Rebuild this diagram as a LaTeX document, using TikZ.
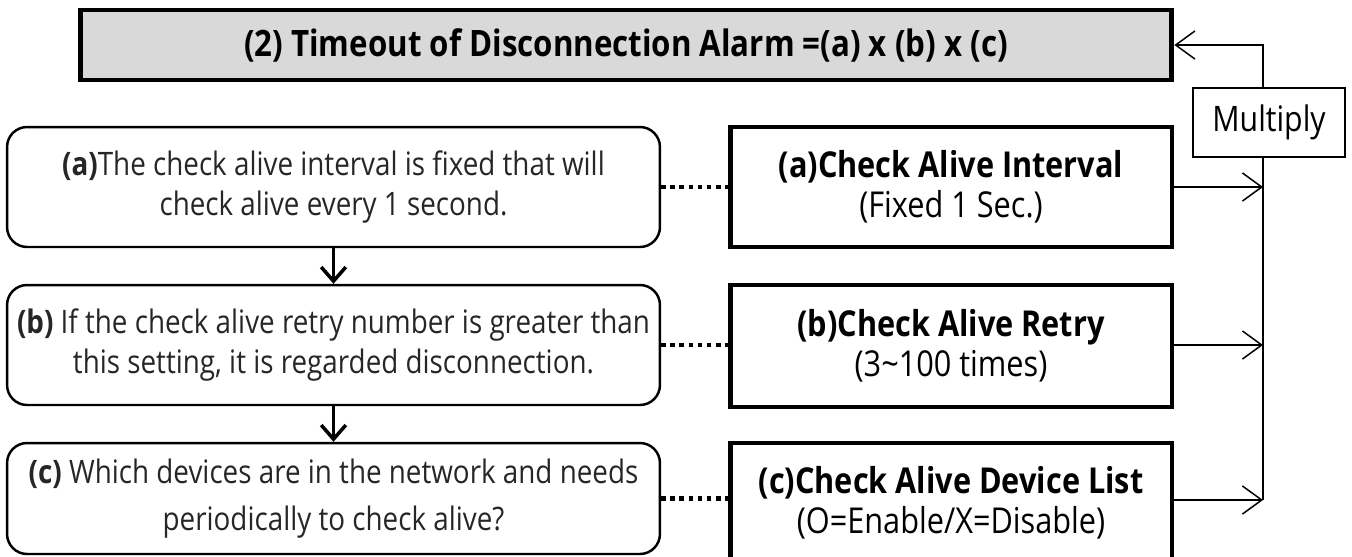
\documentclass[tikz,border=0pt]{standalone}
\usepackage{fontspec}
\setmainfont[FakeStretch=0.86]{Open Sans}
\usetikzlibrary{arrows.meta}

\begin{document}
\begin{tikzpicture}[x=0.02cm,y=-0.02cm,
    descbox/.style={draw,rounded corners=0.4cm,line width=1.4pt,minimum width=13.06cm,
      minimum height=2.4cm,inner xsep=1pt,align=center,font=\fontsize{18.4}{23}\selectfont,text=black!85},
    setbox/.style={draw,line width=2.8pt,minimum width=8.84cm,minimum height=2.4cm,
      align=center,font=\fontsize{20.3}{23}\selectfont},
    link/.style={line width=2.8pt,dash pattern=on 2.6pt off 2.6pt},
    feed/.style={line width=0.85pt,-{Straight Barb[length=11pt,width=16pt,line width=0.85pt]}},
    down/.style={line width=2pt,-{Straight Barb[length=8pt,width=14pt,line width=2pt]}}]
    \useasboundingbox (0,0) rectangle (1352,556);

    % result
    \node[draw,line width=2.8pt,fill=black!15,minimum width=21.84cm,minimum height=1.4cm,
      font=\fontsize{20.7}{22}\selectfont\bfseries] (total) at (626,45)
      {(2) Timeout of Disconnection Alarm =(a) x (b) x (c)};

    % descriptions
    \node[descbox] (desca) at (333.5,187)
      {\textbf{(a)}The check alive interval is fixed that will\\check alive every 1 second.};
    \node[descbox] (descb) at (333.5,345)
      {\textbf{(b)} If the check alive retry number is greater than\\this setting, it is regarded disconnection.};
    \node[descbox,minimum height=2.22cm] (descc) at (333.5,498.5)
      {\textbf{(c)} Which devices are in the network and needs\\[4pt]periodically to check alive?};

    % settings
    \node[setbox] (seta) at (951,187) {\textbf{(a)Check Alive Interval}\\(Fixed 1 Sec.)};
    \node[setbox,minimum height=2.44cm] (setb) at (951,346) {\textbf{(b)Check Alive Retry}\\(3{\char"007E}100 times)};
    \node[setbox] (setc) at (951,503) {\textbf{(c)Check Alive Device List}\\(O=Enable/X=Disable)};

    \node[draw,line width=0.85pt,fill=white,minimum width=3.04cm,minimum height=1.38cm,
      font=\fontsize{20}{22}\selectfont] (mult) at (1269,122.5) {Multiply};
    \coordinate (bus) at (1263,500);

    \draw[down] (desca) -- (descb);
    \draw[down] (descb) -- (descc);

    \draw[link] (desca) -- (seta);
    \draw[link] (descb.east) -- (descb.east -| setb.west);
    \draw[link] (descc.east) -- (descc.east -| setc.west);

    \draw[feed] (seta.east) -- (seta.east -| bus);
    \draw[feed] (setb.east |- descb.east) -- (descb.east -| bus);
    \draw[feed] (setc.east |- bus) -- (bus);
    \draw[line width=0.85pt] (bus) -- (bus |- mult.south);
    \draw[feed] (bus |- mult.north) |- (total.east);
\end{tikzpicture}
\end{document}
